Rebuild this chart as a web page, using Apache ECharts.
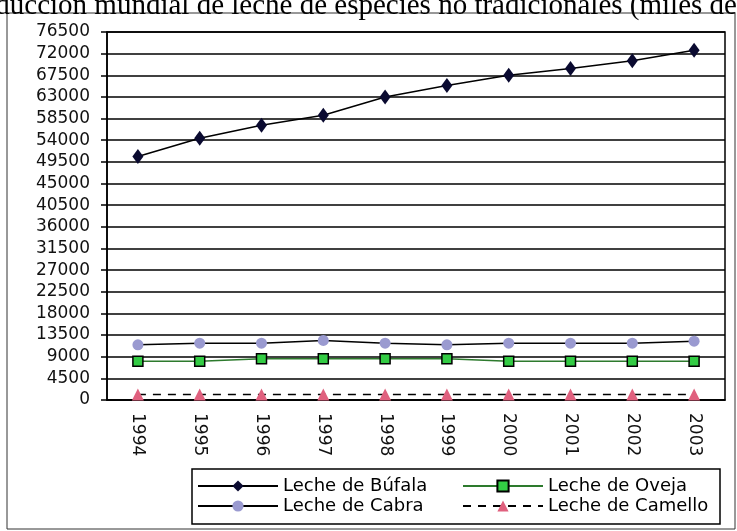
<!DOCTYPE html>
<html>
<head>
<meta charset="utf-8">
<script src="https://cdn.jsdelivr.net/npm/echarts@6/dist/echarts.min.js"></script>
<style>
  html, body { margin: 0; padding: 0; background: #fff; }
  #chart { width: 737px; height: 531px; }
</style>
</head>
<body>
<div id="chart"></div>
<script>
// datos (miles de toneladas)
const years = ['1994', '1995', '1996', '1997', '1998', '1999', '2000', '2001', '2002', '2003'];
const bufala = [50600, 54400, 57100, 59200, 63000, 65400, 67500, 68900, 70500, 72700];
const oveja = [8070, 8070, 8570, 8570, 8570, 8570, 8070, 8070, 8070, 8070];
const cabra = [11480, 11810, 11810, 12380, 11810, 11480, 11810, 11810, 11810, 12230];
const camello = [1150, 1150, 1150, 1150, 1150, 1150, 1150, 1150, 1150, 1150];
const yMax = 76500;
const yStep = 4500;

const titulo = 'Producción mundial de leche de especies no tradicionales (miles de toneladas)';
const fuente = '"DejaVu Sans", Arial, sans-serif';

let chart = echarts.init(document.getElementById('chart'));

chart.setOption({
    animation: false,
    backgroundColor: '#fff',
    graphic: [
        {
            type: 'text',
            left: -45,
            top: -8,
            style: {
                text: titulo,
                font: '29px "Liberation Serif", "Times New Roman", serif',
                fill: '#000'
            }
        },
        {
            type: 'rect',
            shape: { x: 7, y: 13, width: 728, height: 516 },
            style: { fill: '#fff', stroke: '#333', lineWidth: 1 },
            z: -1
        },
        {
            type: 'rect',
            shape: { x: 192, y: 469, width: 528, height: 55 },
            style: { fill: 'none', stroke: '#000', lineWidth: 1.5 }
        }
    ],
    grid: {
        left: 107,
        right: 12,
        top: 32,
        bottom: 131,
        show: true,
        borderColor: '#000',
        borderWidth: 1.5
    },
    legend: [
        {
            data: ['Leche de Búfala', 'Leche de Cabra'],
            orient: 'vertical',
            left: 197,
            top: 476,
            padding: 0,
            itemWidth: 80,
            itemHeight: 14,
            itemGap: 0,
            textStyle: { fontFamily: fuente, fontSize: 18, lineHeight: 20, color: '#000' }
        },
        {
            data: ['Leche de Oveja', 'Leche de Camello'],
            orient: 'vertical',
            left: 462,
            top: 476,
            padding: 0,
            itemWidth: 80,
            itemHeight: 14,
            itemGap: 0,
            textStyle: { fontFamily: fuente, fontSize: 18, lineHeight: 20, color: '#000' }
        }
    ],
    xAxis: {
        type: 'category',
        data: years,
        axisLine: { lineStyle: { color: '#000', width: 1.5 } },
        axisTick: { length: 5, lineStyle: { color: '#000', width: 1.5 } },
        axisLabel: {
            rotate: -90,
            margin: 13,
            fontFamily: fuente,
            fontSize: 17,
            color: '#111'
        }
    },
    yAxis: {
        type: 'value',
        min: 0,
        max: yMax,
        interval: yStep,
        axisLine: { show: true, lineStyle: { color: '#000', width: 1.5 } },
        axisTick: { show: true, length: 6, lineStyle: { color: '#000', width: 1.5 } },
        axisLabel: {
            margin: 17,
            fontFamily: fuente,
            fontSize: 17,
            color: '#111',
            formatter: function (v) { return String(v); }
        },
        splitLine: { lineStyle: { color: '#000', width: 1.5 } }
    },
    series: [
        {
            name: 'Leche de Búfala',
            type: 'line',
            data: bufala,
            symbol: 'diamond',
            symbolSize: [11, 15],
            lineStyle: { color: '#000', width: 1.5 },
            itemStyle: { color: '#0a0a30' }
        },
        {
            name: 'Leche de Oveja',
            type: 'line',
            data: oveja,
            symbol: 'rect',
            symbolSize: 10,
            lineStyle: { color: '#2d7a2d', width: 1.5 },
            itemStyle: { color: '#33cc44', borderColor: '#000', borderWidth: 1.5 }
        },
        {
            name: 'Leche de Cabra',
            type: 'line',
            data: cabra,
            symbol: 'circle',
            symbolSize: 11,
            lineStyle: { color: '#000', width: 1.5 },
            itemStyle: { color: '#9a9ad0' }
        },
        {
            name: 'Leche de Camello',
            type: 'line',
            data: camello,
            symbol: 'triangle',
            symbolSize: 12,
            lineStyle: { color: '#000', width: 1.5, type: [8, 7] },
            itemStyle: { color: '#e0607e' }
        }
    ]
});
</script>
</body>
</html>
